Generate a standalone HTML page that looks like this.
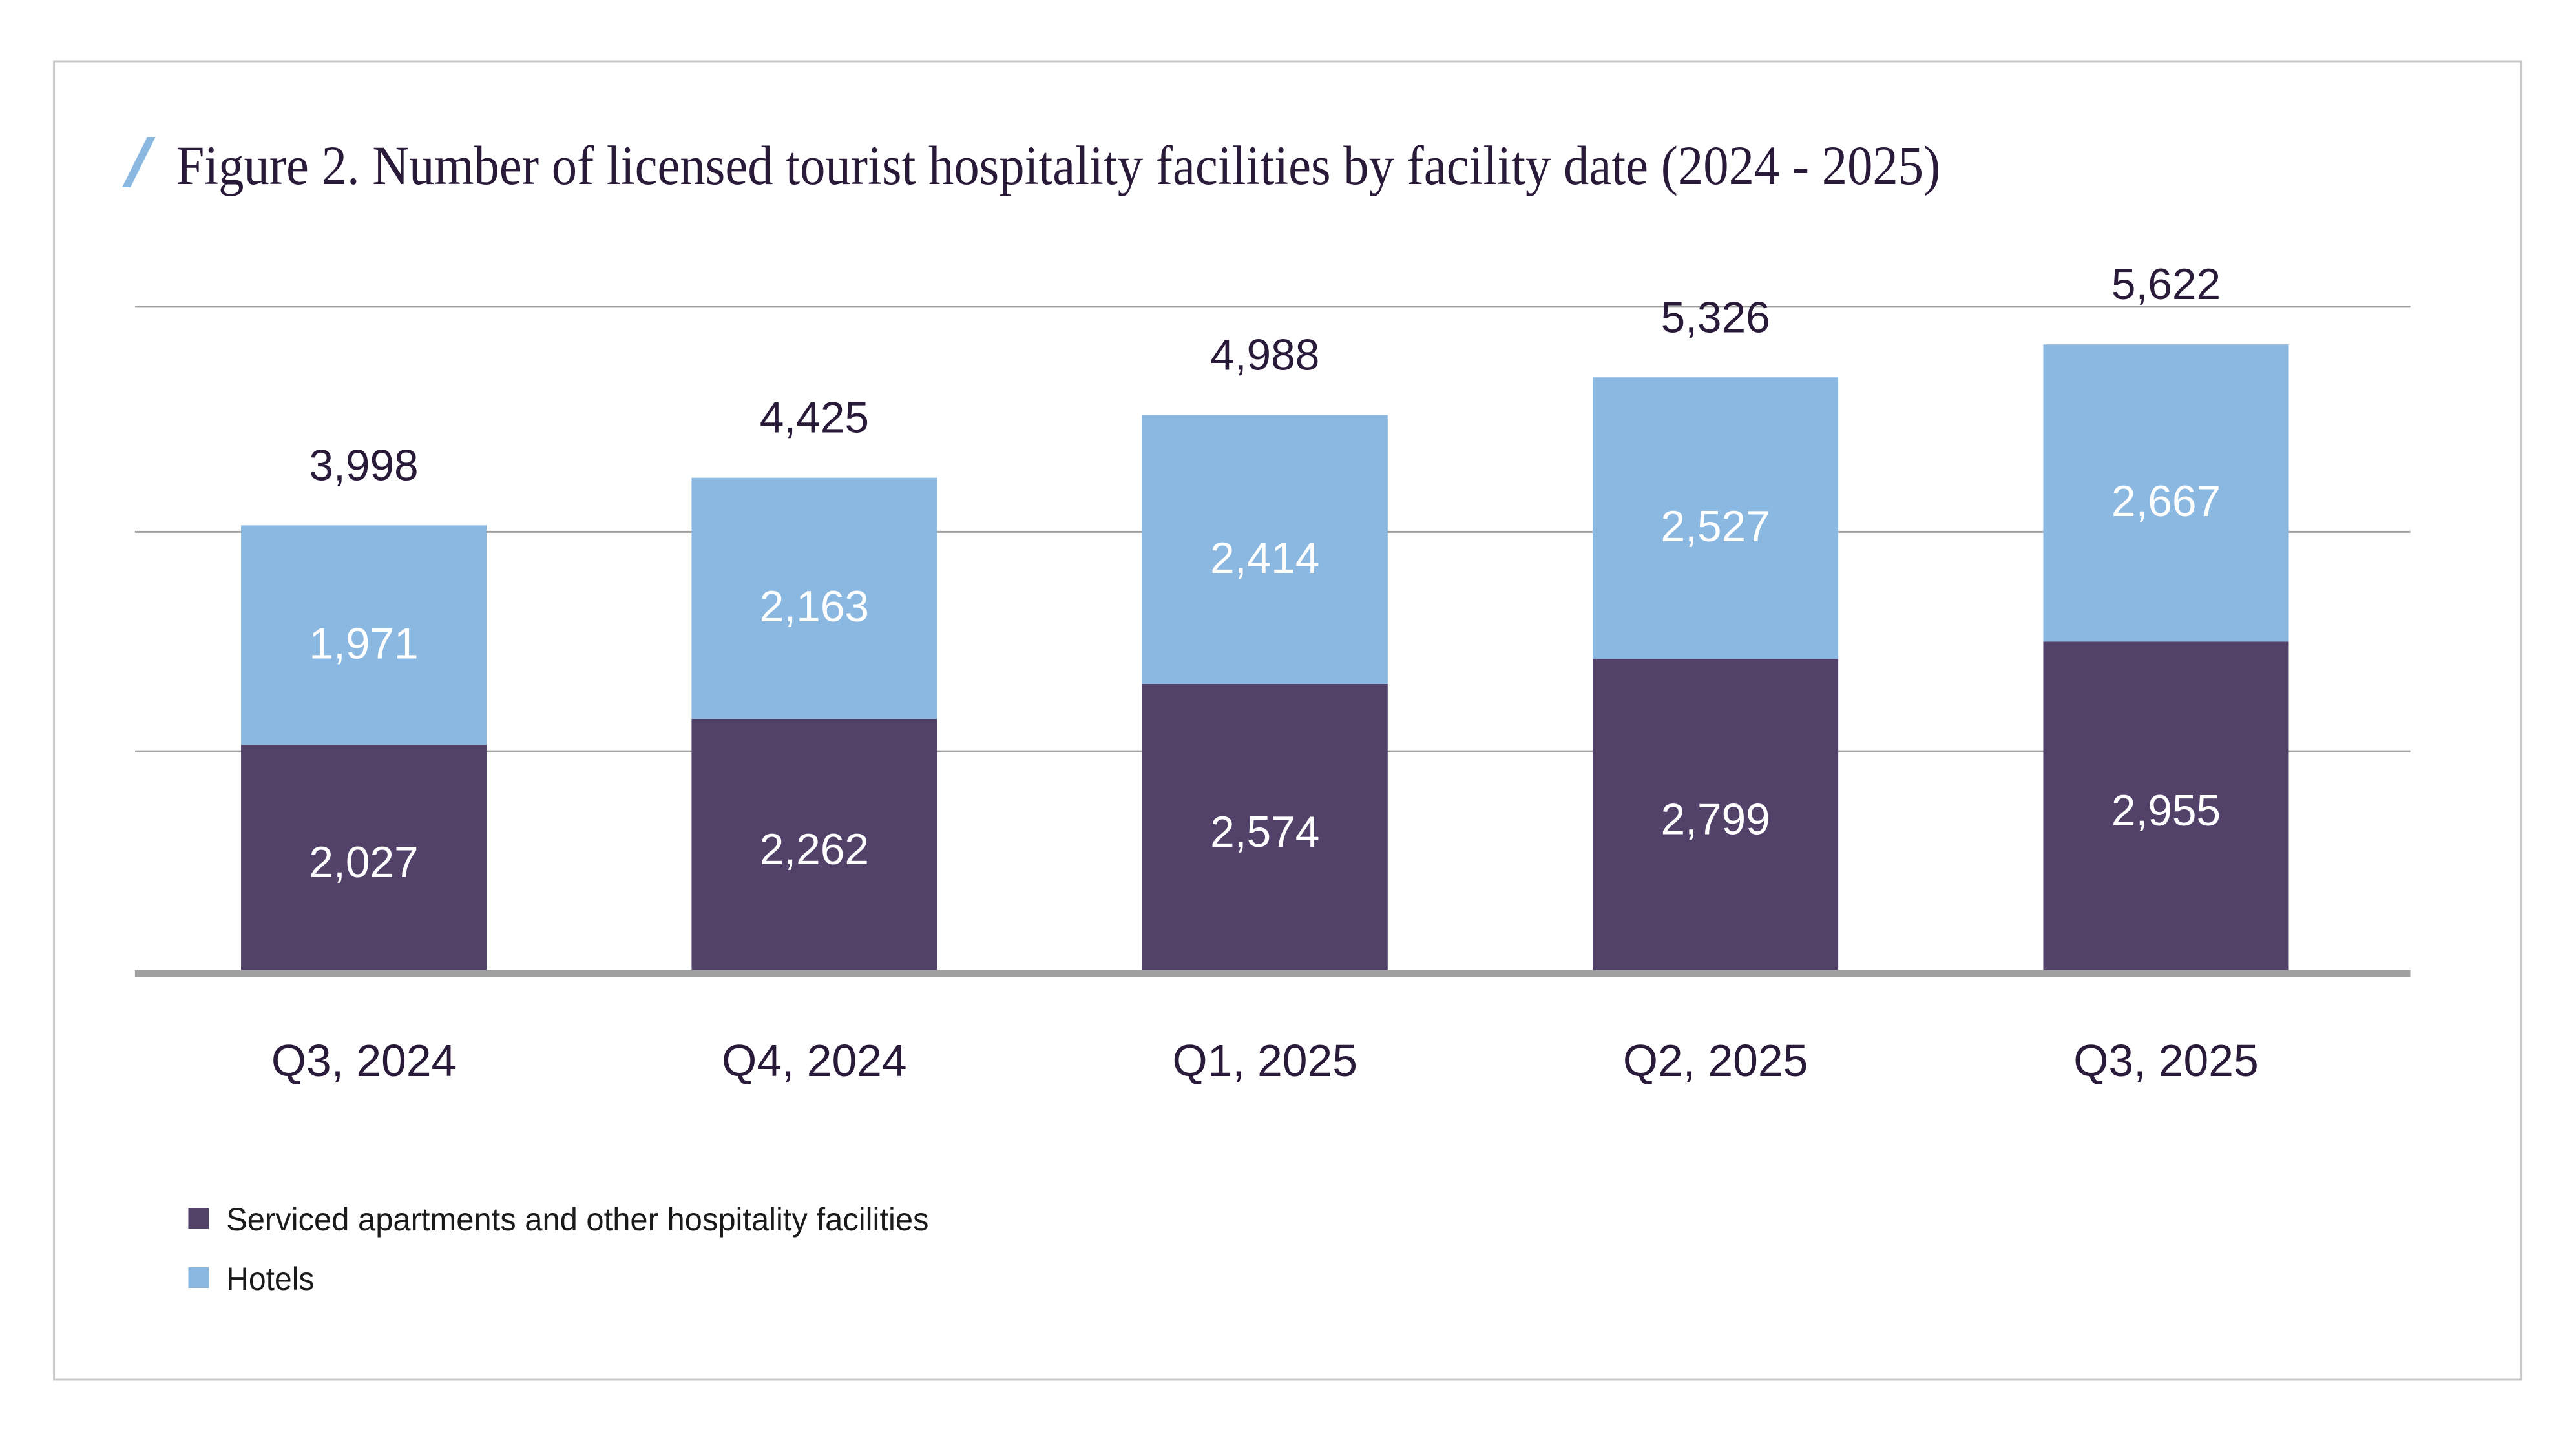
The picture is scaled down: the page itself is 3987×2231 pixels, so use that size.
<!DOCTYPE html>
<html><head><meta charset="utf-8"><style>
html,body{margin:0;padding:0;background:#fff;}
svg{display:block;}
</style></head><body>
<svg id="chart" width="3987" height="2231" viewBox="0 0 3987 2231" xmlns="http://www.w3.org/2000/svg">
<g transform="scale(0.9948,1)">
<rect x="84" y="95" width="3839" height="2041" fill="#fff" stroke="#c8c8c8" stroke-width="3"/>
<polygon points="229,212 242,212 203,290 190,290" fill="#8ab8e1"/>
<text x="274" y="285" font-family="'Liberation Serif', serif" font-size="86" fill="#2a1a3a" textLength="2745" lengthAdjust="spacingAndGlyphs">Figure 2. Number of licensed tourist hospitality facilities by facility date (2024 - 2025)</text>
<g id="grid"></g>
<g id="bars"></g>
<rect x="210" y="1502" width="3540" height="10" fill="#a0a0a0"/>
<rect x="293" y="1870" width="32" height="33" fill="#52426a"/>
<text x="352" y="1905" font-family="'Liberation Sans', sans-serif" font-size="50" fill="#1a1a1a" textLength="1093" lengthAdjust="spacingAndGlyphs">Serviced apartments and other hospitality facilities</text>
<rect x="293" y="1962" width="32" height="32" fill="#8ab8e1"/>
<text x="352" y="1997" font-family="'Liberation Sans', sans-serif" font-size="50" fill="#1a1a1a" textLength="137" lengthAdjust="spacingAndGlyphs">Hotels</text>
</g>
</svg>
<script>
const categories = ["Q3, 2024","Q4, 2024","Q1, 2025","Q2, 2025","Q3, 2025"];
const serviced = [2027, 2262, 2574, 2799, 2955];
const hotels = [1971, 2163, 2414, 2527, 2667];
const gridValues = [1970, 3940, 5960];

const NS = "http://www.w3.org/2000/svg";
const baseY = 1503, pxPerUnit = 0.1725;
const firstX = 566, step = 701, barW = 382;
function y(v){ return baseY - v * pxPerUnit; }
function xc(i){ return firstX + i * step; }
function fmt(v){ return v.toLocaleString("en-US"); }
function mk(tag, attrs, parent){
  const el = document.createElementNS(NS, tag);
  for (const k in attrs) el.setAttribute(k, attrs[k]);
  parent.appendChild(el);
  return el;
}
const grid = document.getElementById("grid");
gridValues.forEach(v => {
  const l = mk("line", {x1:210, x2:3750, y1:y(v), y2:y(v), stroke:"#a0a0a0", "stroke-width":3}, grid);
  
  
});
const bars = document.getElementById("bars");
const font = "'Liberation Sans', sans-serif";
categories.forEach((c, i) => {
  const s = serviced[i], h = hotels[i], t = s + h;
  const x = xc(i) - barW/2;
  const r1 = mk("rect", {x:x, y:y(s), width:barW, height:baseY - y(s), fill:"#52426a"}, bars);
  
  
  const r2 = mk("rect", {x:x, y:y(t), width:barW, height:y(s) - y(t), fill:"#8ab8e1"}, bars);
  
  
  const l1 = mk("text", {x:xc(i), y:(y(s)+baseY)/2 + 30, "text-anchor":"middle", "font-family":font, "font-size":68, fill:"#fff"}, bars);
  l1.textContent = fmt(s);
  
  
  const l2 = mk("text", {x:xc(i), y:(y(t)+y(s))/2 + 36, "text-anchor":"middle", "font-family":font, "font-size":68, fill:"#fff"}, bars);
  l2.textContent = fmt(h);
  
  
  const l3 = mk("text", {x:xc(i), y:y(t) - 70, "text-anchor":"middle", "font-family":font, "font-size":68, fill:"#2a1a3a"}, bars);
  l3.textContent = fmt(t);
  
  
  const l4 = mk("text", {x:xc(i), y:1666, "text-anchor":"middle", "font-family":font, "font-size":70, fill:"#2a1a3a"}, bars);
  l4.textContent = c;
  
  
});
</script>
</body></html>
